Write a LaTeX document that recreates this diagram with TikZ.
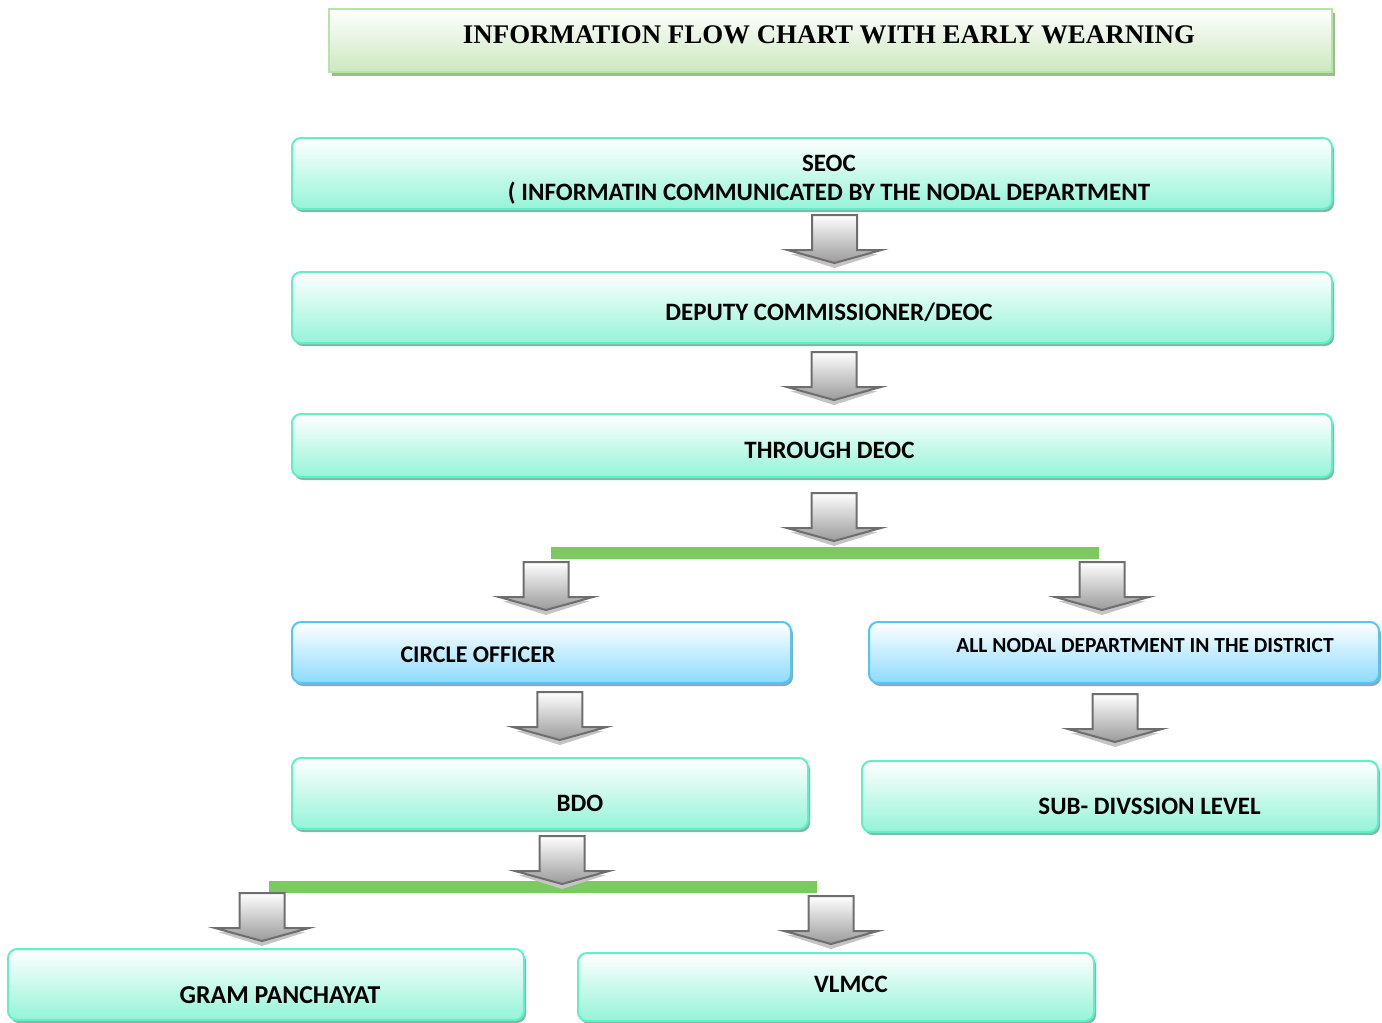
\documentclass[tikz,border=0pt]{standalone}
\usepackage{fontspec}
\setmainfont{Carlito}
\newfontfamily\titlefont{Liberation Serif}
\usetikzlibrary{calc,shadows}
\definecolor{aqualine}{HTML}{60F0C8}
\definecolor{aquafill}{HTML}{94F4D8}
\definecolor{aquashade}{HTML}{86B5A6}
\definecolor{blueline}{HTML}{4FC8F8}
\definecolor{bluefill}{HTML}{8CDBFC}
\definecolor{blueshade}{HTML}{8AAAB8}
\definecolor{titleline}{HTML}{B6E3A8}
\definecolor{titlefill}{HTML}{CBE8BF}
\definecolor{titleshade}{HTML}{9DBB8F}
\definecolor{arrowline}{HTML}{6E6E6E}
\definecolor{arrowfill}{HTML}{9A9A9A}
\definecolor{arrowshade}{HTML}{C4C4C4}
\definecolor{splitgreen}{HTML}{7CCA5F}
% block arrow pointing down, centred at #1
\newcommand\flowarrow[1]{%
  \begin{scope}[shift={#1}]
    \fill[arrowshade] (-44,15) -- (44,15) -- (0,29) -- cycle;
    \draw[line width=2pt,draw=arrowline,top color=white,bottom color=arrowfill,line join=miter]
      (-22.5,-24) -- (22.5,-24) -- (22.5,11) -- (47,11) -- (0,24) -- (-47,11) -- (-22.5,11) -- cycle;
  \end{scope}}
\begin{document}
\begin{tikzpicture}[x=1pt,y=-1pt]
  \tikzset{
    box/.style={rectangle,rounded corners=9pt,line width=2pt,inner sep=0pt},
    aquabox/.style={box,draw=aqualine,top color=white,bottom color=aquafill,
      drop shadow={shadow xshift=2pt,shadow yshift=-3pt,fill=aquashade,opacity=1}},
    bluebox/.style={box,draw=blueline,top color=white,bottom color=bluefill,
      drop shadow={shadow xshift=2pt,shadow yshift=-3pt,fill=blueshade,opacity=1}},
    titlebox/.style={box,rounded corners=0pt,draw=titleline,top color=white,bottom color=titlefill,
      drop shadow={shadow xshift=3pt,shadow yshift=-4pt,fill=titleshade,opacity=1}},
    lbl/.style={anchor=base,inner sep=0pt,font=\fontsize{25}{29}\selectfont\bfseries,align=center},
    splitbar/.style={line width=12pt,draw=splitgreen},
  }
  \useasboundingbox (0,0) rectangle (1382,1023);
  % boxes
  \node[titlebox,minimum width=1003pt,minimum height=63pt] (title) at (830.5,40.5) {};
  \node[aquabox,minimum width=1040pt,minimum height=71pt] (seoc) at (812,173.5) {};
  \node[aquabox,minimum width=1040pt,minimum height=71pt] (deputy) at (812,307.5) {};
  \node[aquabox,minimum width=1040pt,minimum height=63pt] (through) at (812,445.5) {};
  \node[bluebox,minimum width=499pt,minimum height=61pt] (circle) at (541.5,652.5) {};
  \node[bluebox,minimum width=510pt,minimum height=61pt] (nodal) at (1124,652.5) {};
  \node[aquabox,minimum width=516pt,minimum height=71pt] (bdo) at (550,793.5) {};
  \node[aquabox,minimum width=516pt,minimum height=71pt] (subdiv) at (1120,796.5) {};
  \node[aquabox,minimum width=516pt,minimum height=71pt] (gram) at (266,984.5) {};
  \node[aquabox,minimum width=516pt,minimum height=68pt] (vlmcc) at (836,987) {};
  % texts
  \node[lbl,font=\fontsize{26.9}{30}\selectfont\titlefont\bfseries] (title-t) at ([shift={(-1.5,2.5)}]title.center) {INFORMATION FLOW CHART WITH EARLY WEARNING};
  \node[lbl] (seoc-t) at ([shift={(17,26.5)}]seoc.center) {SEOC\\( INFORMATIN COMMUNICATED BY THE NODAL DEPARTMENT};
  \node[lbl] (deputy-t) at ([shift={(17,12.5)}]deputy.center) {DEPUTY COMMISSIONER/DEOC};
  \node[lbl] (through-t) at ([shift={(17.5,12.5)}]through.center) {THROUGH DEOC};
  \node[lbl,font=\fontsize{24}{29}\selectfont\bfseries] (circle-t) at ([shift={(-63.5,10)}]circle.center) {CIRCLE OFFICER};
  \node[lbl,font=\fontsize{21.5}{25}\selectfont\bfseries] (nodal-t) at ([shift={(21,-0.5)}]nodal.center) {ALL NODAL DEPARTMENT IN THE DISTRICT};
  \node[lbl] (bdo-t) at ([shift={(30,18)}]bdo.center) {BDO};
  \node[lbl] (subdiv-t) at ([shift={(29.5,18)}]subdiv.center) {SUB- DIVSSION LEVEL};
  \node[lbl,font=\fontsize{25.8}{29}\selectfont\bfseries] (gram-t) at ([shift={(14,18.5)}]gram.center) {GRAM PANCHAYAT};
  \node[lbl] (vlmcc-t) at ([shift={(15,5)}]vlmcc.center) {VLMCC};
  % split bars
  \coordinate (split1w) at (551,553);
  \coordinate (split1e) at (1099,553);
  \coordinate (split2w) at (269,887);
  \coordinate (split2e) at (817,887);
  \draw[splitbar] (split1w) -- (split1e);
  \draw[splitbar] (split2w) -- (split2e);
  % arrows
  \flowarrow{($(seoc.south)!.5!(deputy.north)+(22.5,-1.5)$)}
  \flowarrow{($(deputy.south)!.5!(through.north)+(22,-2.5)$)}
  \flowarrow{($(through.south)+(22,39)$)}
  \flowarrow{($(circle.north)+(4.5,-35)$)}
  \flowarrow{($(nodal.north)+(-22,-35)$)}
  \flowarrow{($(circle.south)!.5!(bdo.north)+(14,-4.5)$)}
  \flowarrow{($(nodal.south)!.5!(subdiv.north)+(-7,-4)$)}
  \flowarrow{($(bdo.south)+(12,30)$)}
  \flowarrow{($(gram.north)+(-4,-31)$)}
  \flowarrow{($(vlmcc.north)+(-5,-32)$)}
\end{tikzpicture}
\end{document}
